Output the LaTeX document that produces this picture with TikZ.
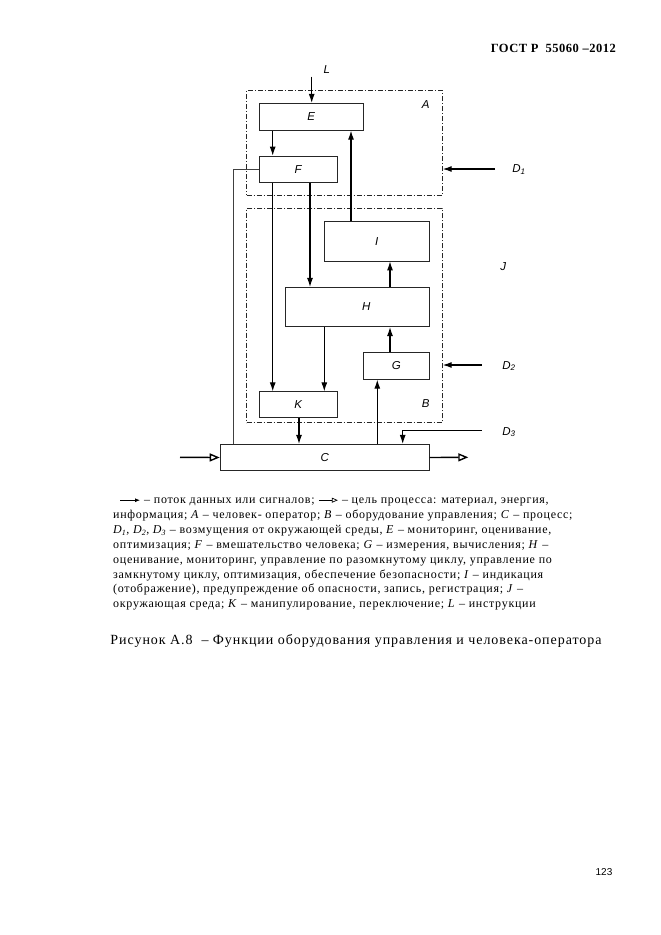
\documentclass[tikz,border=0pt]{standalone}
\usepackage{fontspec}
\setmainfont{Liberation Serif}
\newfontfamily\arialfont{Liberation Sans}
\newfontfamily\legfont[LetterSpace=6]{Liberation Serif}
\newfontfamily\capfont[LetterSpace=6.7]{Liberation Serif}
\newfontfamily\hdrfont[LetterSpace=4]{Liberation Serif}
\usetikzlibrary{arrows.meta}
\begin{document}
\begin{tikzpicture}[x=1pt,y=-1pt,
  box/.style={draw=black!85, line width=0.7pt, inner sep=0, font=\arialfont\itshape\fontsize{11.5}{13}\selectfont},
  grp/.style={draw=black!85, line width=0.8pt, dash pattern=on 5pt off 2pt on 1pt off 2pt, inner sep=0},
  sig/.style={line width=1.1pt, -{Latex[length=9pt,width=6pt]}},
  flow/.style={line width=1.4pt, -{Triangle[open,length=10pt,width=8pt,line width=1.4pt]}},
  thinline/.style={line width=0.6pt, draw=black!75},
  lbl/.style={font=\arialfont\itshape\fontsize{11.5}{13}\selectfont, inner sep=0},
  leg/.style={anchor=base west, inner sep=0, font=\legfont\fontsize{12}{14}\selectfont},
  legsig/.style={line width=0.8pt, -{Latex[length=5pt,width=4pt]}},
  legflow/.style={line width=0.8pt, -{Triangle[open,length=6pt,width=5pt,line width=0.7pt]}}
]
\useasboundingbox (0,0) rectangle (661,935);
\fill[white] (0,0) rectangle (661,935);

% header
\node[anchor=base east, inner sep=0, font=\hdrfont\bfseries\fontsize{12.5}{14}\selectfont] (hdr) at (616,52) {ГОСТ Р\ \ 55060 –2012};

% group frames
\node[grp, minimum width=195.6pt, minimum height=104.7pt] (A) at (344.5,142.65) {};
\node[grp, minimum width=195.6pt, minimum height=214.4pt] (B) at (344.5,315.5) {};

% boxes
\node[box, minimum width=104.3pt, minimum height=27pt] (E) at (311.2,116.8) {E};
\node[box, minimum width=78.3pt, minimum height=26.3pt] (F) at (298.2,169.2) {F};
\node[box, minimum width=105pt, minimum height=39.3pt] (I) at (376.8,241.4) {I};
\node[box, minimum width=144pt, minimum height=39.4pt] (H) at (357.3,307) {\hspace*{18pt}H};
\node[box, minimum width=66pt, minimum height=27pt] (G) at (396.3,365.8) {G};
\node[box, minimum width=78.3pt, minimum height=26pt] (K) at (298.2,404.7) {K};
\node[box, minimum width=209.3pt, minimum height=26.4pt] (C) at (324.7,457.5) {C};

% labels
\node[lbl] (Lt) at (326.7,70) {L};
\node[lbl] (At) at (425.7,104.3) {A};
\node[lbl] (Bt) at (425.7,404) {B};
\node[lbl] (Jt) at (503.3,266.7) {J};
\node[lbl] (D1t) at (519,169.5) {D\textsubscript{1}};
\node[lbl] (D2t) at (509,366) {D\textsubscript{2}};
\node[lbl] (D3t) at (509,432) {D\textsubscript{3}};

% columns
\coordinate (c1) at (272.7,0);
\coordinate (c2) at (310,0);
\coordinate (c3) at (351,0);
\coordinate (c4) at (390,0);
\coordinate (c5) at (324.3,0);
\coordinate (c6) at (299,0);
\coordinate (c7) at (377.3,0);
\coordinate (c8) at (402.7,0);
\coordinate (c9) at (233.3,0);

% connectors
\coordinate (Lin) at (311.7,76.7);
\draw[sig] (Lin) -- (Lin |- E.north);
\draw[sig] (E.south -| c1) -- (F.north -| c1);
\draw[sig] (F.south -| c1) -- (K.north -| c1);
\draw[sig] (F.south -| c2) -- (H.north -| c2);
\draw[sig] (I.north -| c3) -- (E.south -| c3);
\draw[sig] (H.north -| c4) -- (I.south -| c4);
\draw[sig] (G.north -| c4) -- (H.south -| c4);
\draw[sig] (H.south -| c5) -- (K.north -| c5);
\draw[sig] (K.south -| c6) -- (C.north -| c6);
\draw[sig] (C.north -| c7) -- (G.south -| c7);
\draw[thinline] (F.west) -- (F.west -| c9) -- (C.north -| c9);

\coordinate (D1s) at (495,169);
\draw[sig] (D1s) -- (D1s -| A.east);
\coordinate (D2s) at (481.7,365);
\draw[sig] (D2s) -- (D2s -| B.east);
\coordinate (D3s) at (481.7,430.7);
\draw[sig] (D3s) -- (D3s -| c8) -- (C.north -| c8);

\coordinate (Cin) at (180,457.3);
\draw[flow] (Cin) -- (C.west);
\coordinate (Cout) at (468.3,457.3);
\draw[flow] (C.east) -- (Cout);

% legend
\coordinate (a1) at (120,500.2);
\draw[legsig] (a1) -- ++(20,0);
\node[leg] (l1a) at (144,503.7) {– поток данных или сигналов;};
\path (l1a.base east) ++(4,-3.5) coordinate (a2);
\draw[legflow] (a2) -- ++(19,0) coordinate (a2e);
\path (a2e) ++(4,3.5) node[leg] (l1b) {– цель процесса: материал, энергия,};
\node[leg] (l2) at (113,518.6) {информация; \textit{A} – человек- оператор; \textit{B} – оборудование управления; \textit{C} – процесс;};
\node[leg] (l3) at (113,533.4) {\textit{D\textsubscript{1}}, \textit{D\textsubscript{2}}, \textit{D\textsubscript{3}} – возмущения от окружающей среды, \textit{E} – мониторинг, оценивание,};
\node[leg] (l4) at (113,548.3) {оптимизация; \textit{F} – вмешательство человека; \textit{G} – измерения, вычисления; \textit{H} –};
\node[leg] (l5) at (113,563.1) {оценивание, мониторинг, управление по разомкнутому циклу, управление по};
\node[leg] (l6) at (113,578.0) {замкнутому циклу, оптимизация, обеспечение безопасности; \textit{I} – индикация};
\node[leg] (l7) at (113,592.9) {(отображение), предупреждение об опасности, запись, регистрация; \textit{J} –};
\node[leg] (l8) at (113,607.7) {окружающая среда; \textit{K} – манипулирование, переключение; \textit{L} – инструкции};

% caption
\node[anchor=base, inner sep=0, font=\capfont\fontsize{14}{16}\selectfont] (cap) at (356,644) {Рисунок А.8 \ – Функции оборудования управления и человека-оператора};

% page number
\node[anchor=base, inner sep=0, font=\arialfont\fontsize{10}{12}\selectfont] (pg) at (604,875) {123};
\end{tikzpicture}
\end{document}
